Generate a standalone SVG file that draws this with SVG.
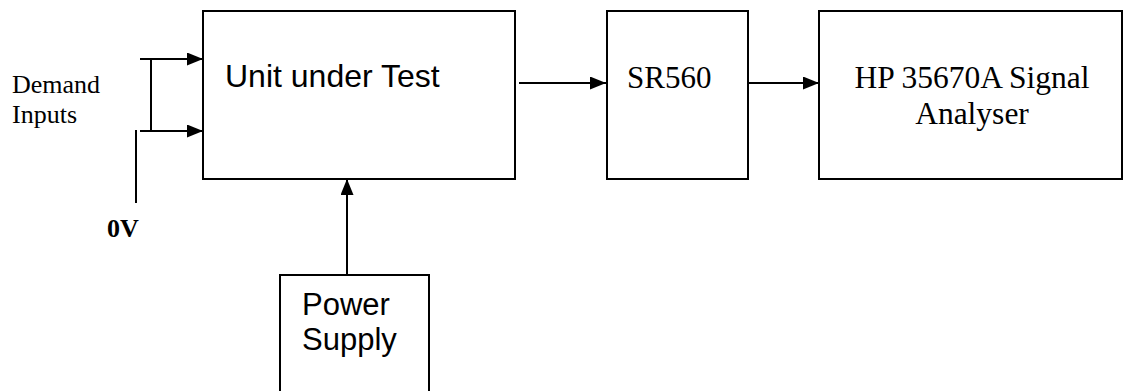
<svg xmlns="http://www.w3.org/2000/svg" width="1131" height="391" viewBox="0 0 1131 391">
<style>
.box{fill:#fff;stroke:#000;stroke-width:2}
.ln{fill:none;stroke:#000;stroke-width:2}
.sans{font-family:"Liberation Sans",Arial,sans-serif;fill:#000}
.serif{font-family:"Liberation Serif","Times New Roman",serif;fill:#000}
</style>
<defs>
<marker id="ah" markerWidth="16" markerHeight="13" refX="16" refY="6.5" orient="auto" markerUnits="userSpaceOnUse">
<path d="M0,0 L16,6.5 L0,13 Z" fill="#000"/>
</marker>
</defs>
<rect width="1131" height="391" fill="#fff"/>
<g id="uut">
<rect class="box" x="203" y="11" width="312" height="168"/>
<text class="sans" x="225" y="87" font-size="32">Unit under Test</text>
</g>
<g id="sr560">
<rect class="box" x="607" y="11" width="141" height="168"/>
<text class="serif" x="627" y="88" font-size="31">SR560</text>
</g>
<g id="hp">
<rect class="box" x="819" y="11" width="303" height="168"/>
<text class="serif" x="972" y="88" font-size="31.5" text-anchor="middle">HP 35670A Signal</text>
<text class="serif" x="972" y="124" font-size="31.5" text-anchor="middle">Analyser</text>
</g>
<g id="power">
<rect class="box" x="280" y="275" width="149" height="130"/>
<text class="sans" x="302" y="315" font-size="31">Power</text>
<text class="sans" x="302" y="350" font-size="31">Supply</text>
</g>
<g id="demand">
<text class="serif" x="12" y="93" font-size="26">Demand</text>
<text class="serif" x="12" y="123" font-size="26">Inputs</text>
</g>
<g id="zerov">
<text class="serif" x="107" y="237" font-size="26" font-weight="bold">0V</text>
</g>
<g id="connectors">
<line class="ln" x1="140" y1="59" x2="203" y2="59" marker-end="url(#ah)"/>
<line class="ln" x1="140" y1="131" x2="203" y2="131" marker-end="url(#ah)"/>
<line class="ln" x1="151" y1="59" x2="151" y2="131"/>
<line class="ln" x1="136" y1="130" x2="136" y2="203"/>
<line class="ln" x1="519" y1="83" x2="606" y2="83" marker-end="url(#ah)"/>
<line class="ln" x1="748" y1="83" x2="819" y2="83" marker-end="url(#ah)"/>
<line class="ln" x1="347" y1="275" x2="347" y2="179" marker-end="url(#ah)"/>
</g>
</svg>
